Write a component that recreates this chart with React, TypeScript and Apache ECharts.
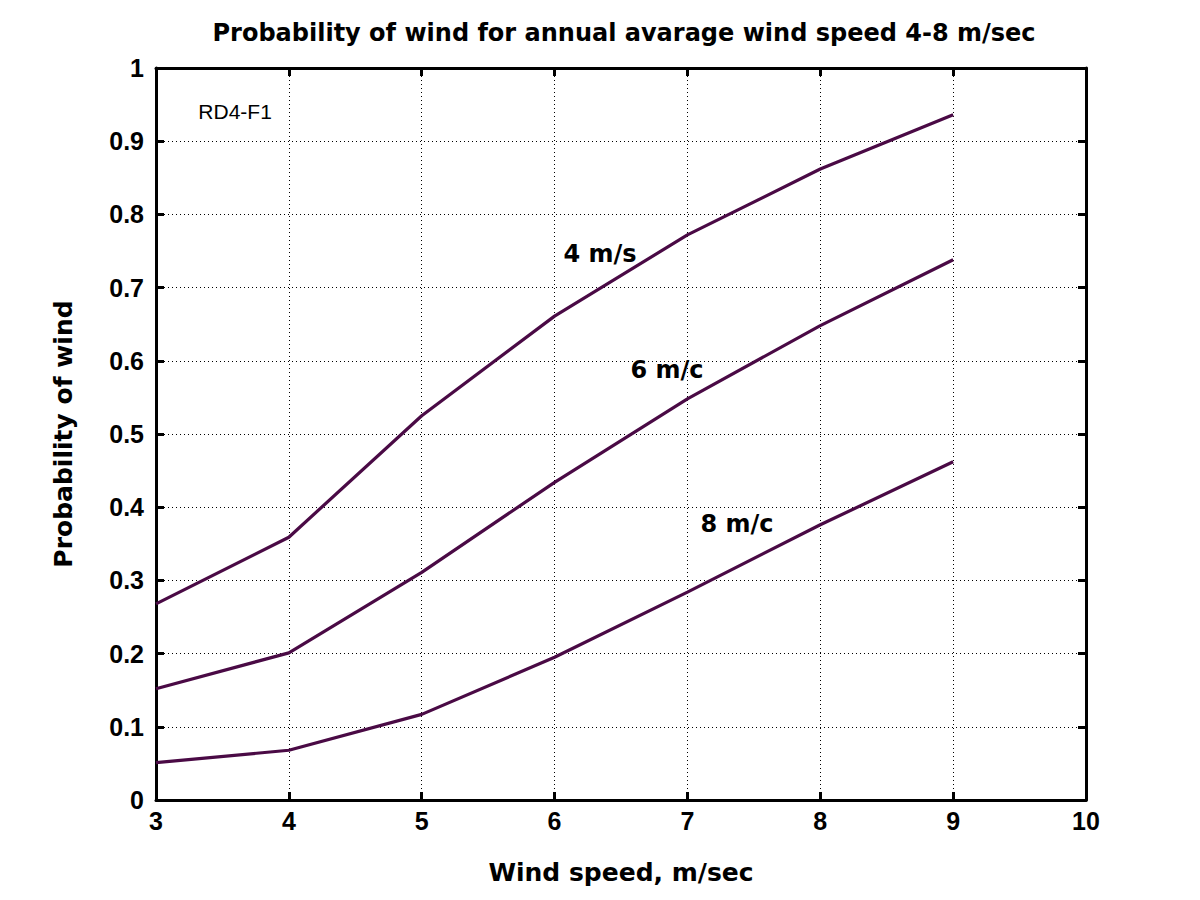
import React, { useEffect, useRef } from "react";
import * as echarts from "echarts";

const windSpeeds = [3, 4, 5, 6, 7, 8, 9];
const prob4 = [0.268, 0.359, 0.525, 0.661, 0.772, 0.862, 0.936];
const prob6 = [0.152, 0.201, 0.311, 0.434, 0.548, 0.648, 0.738];
const prob8 = [0.051, 0.068, 0.117, 0.195, 0.284, 0.376, 0.462];
const seriesNames = ["4 m/s", "6 m/c", "8 m/c"];
const labelCoords: [number, number][] = [[6.342, 0.746], [6.846, 0.587], [7.373, 0.377]];
const noteText = "RD4-F1";
const noteCoord: [number, number] = [3.595, 0.94];

const SANS = "'Liberation Sans', Arial, sans-serif";
const WIDE = "'DejaVu Sans', sans-serif";
const LINE = "#4a0a45";

export default function App() {
  const ref = useRef<HTMLDivElement>(null);
  useEffect(() => {
    const chart = echarts.init(ref.current!, null, { renderer: "svg" });
    const all = [prob4, prob6, prob8];
    const axisCommon = {
      type: "value" as const,
      axisLine: { show: true, onZero: false, lineStyle: { color: "#000", width: 3 } },
      axisTick: { show: true, inside: true, length: 8, lineStyle: { color: "#000", width: 3 } },
    };
    chart.setOption({
      animation: false,
      backgroundColor: "#fff",
      title: {
        text: "Probability of wind for annual avarage wind speed 4-8 m/sec",
        left: 619,
        textAlign: "center",
        top: 16,
        textStyle: { fontFamily: WIDE, fontWeight: "bold", fontSize: 24, color: "#000" },
      },
      grid: { left: 156, right: 114, top: 68, bottom: 100, containLabel: false },
      xAxis: [
        {
          ...axisCommon,
          position: "bottom",
          min: 3,
          max: 10,
          interval: 1,
          name: "Wind speed, m/sec",
          nameLocation: "middle",
          nameGap: 60,
          nameTextStyle: { fontFamily: WIDE, fontWeight: "bold", fontSize: 25, color: "#000" },
          axisLabel: { margin: 8, fontFamily: SANS, fontWeight: "bold", fontSize: 25, color: "#000" },
          splitLine: { show: true, lineStyle: { color: "#000", width: 1, type: [1, 3] } },
        },
        {
          ...axisCommon,
          position: "top",
          min: 3,
          max: 10,
          interval: 1,
          axisLabel: { show: false },
          splitLine: { show: false },
        },
      ],
      yAxis: [
        {
          ...axisCommon,
          position: "left",
          min: 0,
          max: 1,
          interval: 0.1,
          name: "Probability of wind",
          nameLocation: "middle",
          nameGap: 80,
          nameTextStyle: { fontFamily: WIDE, fontWeight: "bold", fontSize: 25, color: "#000" },
          axisLabel: { margin: 12, fontFamily: SANS, fontWeight: "bold", fontSize: 25, color: "#000" },
          splitLine: { show: true, lineStyle: { color: "#000", width: 1, type: [1, 3] } },
        },
        {
          ...axisCommon,
          position: "right",
          min: 0,
          max: 1,
          interval: 0.1,
          axisLabel: { show: false },
          splitLine: { show: false },
        },
      ],
      series: [
        ...all.map((vals, i) => ({
          type: "line",
          name: seriesNames[i],
          data: windSpeeds.map((x, j) => [x, vals[j]]),
          showSymbol: false,
          symbol: "none",
          lineStyle: { color: LINE, width: 3.2 },
          markPoint: {
            symbol: "circle",
            symbolSize: 0,
            data: [
              {
                coord: labelCoords[i],
                label: {
                  show: true,
                  formatter: seriesNames[i],
                  position: "inside",
                  fontFamily: WIDE,
                  fontWeight: "bold",
                  fontSize: 24,
                  color: "#000",
                  textBorderWidth: 0,
                },
              },
            ],
          },
        })),
        {
          type: "scatter",
          data: [noteCoord],
          symbolSize: 0,
          itemStyle: { color: "#000", opacity: 1 },
          label: {
            show: true,
            position: "inside",
            formatter: noteText,
            fontFamily: SANS,
            fontSize: 21,
            color: "#000",
            textBorderWidth: 0,
            opacity: 1,
          },
          silent: true,
        },
      ],
    });
    return () => chart.dispose();
  }, []);
  return <div ref={ref} style={{ width: 1200, height: 900, position: "absolute", left: 0, top: 0 }} />;
}
